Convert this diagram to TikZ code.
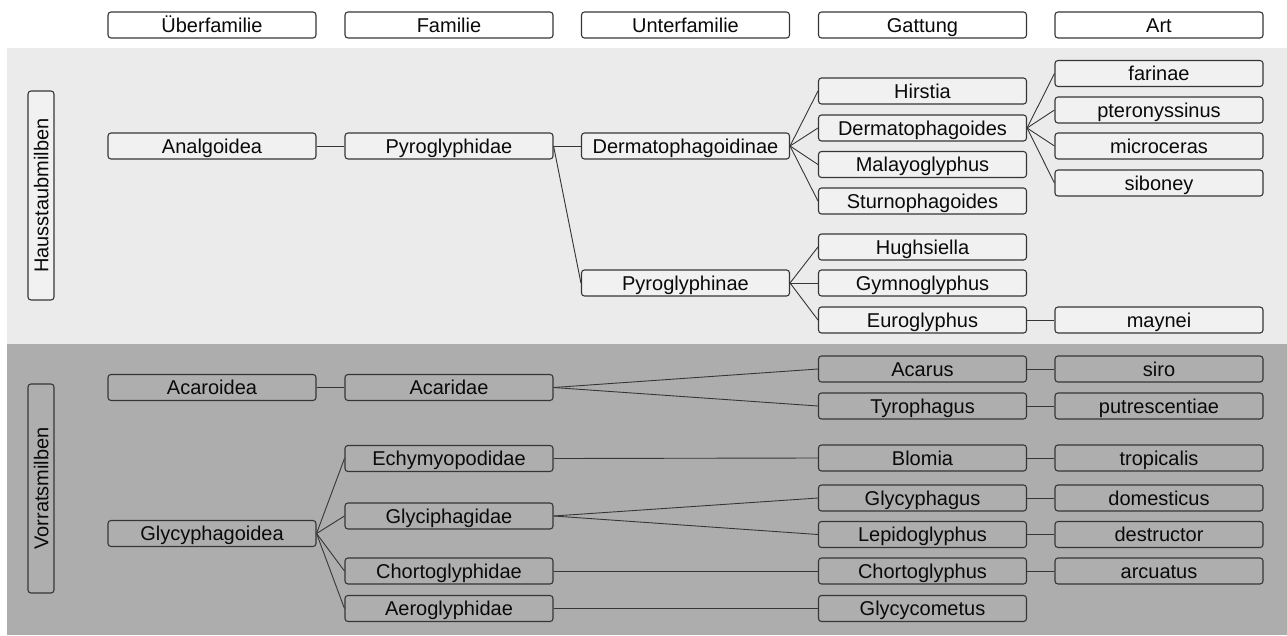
\documentclass[tikz,border=0pt]{standalone}
\usepackage{fontspec}
\setmainfont{Liberation Sans}
\definecolor{bandlight}{HTML}{EBEBEB}
\definecolor{banddark}{HTML}{ADADAD}
\definecolor{boxlight}{HTML}{F1F1F1}
\definecolor{boxdark}{HTML}{AEAEAE}
\definecolor{edge}{HTML}{363636}
\definecolor{txt}{HTML}{0A0A0A}
\begin{document}
\begin{tikzpicture}[x=1pt,y=-1pt,
  base/.style={draw=edge,line width=1.1pt,rounded corners=3pt,minimum width=208pt,minimum height=26pt,inner sep=0pt,text=txt,text height=16pt,text depth=1.4pt,font=\fontsize{20}{22}\selectfont},
  hdr/.style={base,fill=white},
  lbox/.style={base,fill=boxlight},
  dbox/.style={base,fill=boxdark},
  vlab/.style={base,minimum width=209pt,rotate=90},
  conn/.style={draw=edge,line width=0.9pt}]
\useasboundingbox (0,0) rectangle (1287,635);
\fill[white] (0,0) rectangle (1287,635);
\fill[bandlight] (7,48) rectangle (1287,344);
\fill[banddark] (7,344) rectangle (1287,635);

% headers
\node[hdr] (h1) at (212,25) {Überfamilie};
\node[hdr] (h2) at (449,25) {Familie};
\node[hdr] (h3) at (685.5,25) {Unterfamilie};
\node[hdr] (h4) at (922.5,25) {Gattung};
\node[hdr] (h5) at (1159,25) {Art};

% side labels
\node[vlab,fill=boxlight] (hs) at (41,195.5) {Hausstaubmilben};
\node[vlab,fill=boxdark] (vr) at (41,488.5) {Vorratsmilben};

% upper band
\node[lbox] (analg) at (212,146) {Analgoidea};
\node[lbox] (pyrd) at (449,146) {Pyroglyphidae};
\node[lbox] (derm) at (685.5,146) {Dermatophagoidinae};
\node[lbox] (pyrn) at (685.5,283) {Pyroglyphinae};
\node[lbox] (hirs) at (922.5,91) {Hirstia};
\node[lbox] (dermg) at (922.5,128) {Dermatophagoides};
\node[lbox] (malay) at (922.5,164.5) {Malayoglyphus};
\node[lbox] (sturn) at (922.5,201) {Sturnophagoides};
\node[lbox] (hugh) at (922.5,247) {Hughsiella};
\node[lbox] (gymn) at (922.5,283) {Gymnoglyphus};
\node[lbox] (euro) at (922.5,320) {Euroglyphus};
\node[lbox] (far) at (1159,73.5) {farinae};
\node[lbox] (pter) at (1159,110) {pteronyssinus};
\node[lbox] (micr) at (1159,146) {microceras};
\node[lbox] (sibo) at (1159,183) {siboney};
\node[lbox] (mayn) at (1159,320) {maynei};

% lower band
\node[dbox] (acar) at (212,387.5) {Acaroidea};
\node[dbox] (acard) at (449,387.5) {Acaridae};
\node[dbox] (glyc) at (212,533.5) {Glycyphagoidea};
\node[dbox] (echy) at (449,458.5) {Echymyopodidae};
\node[dbox] (glyd) at (449,516) {Glyciphagidae};
\node[dbox] (chod) at (449,571) {Chortoglyphidae};
\node[dbox] (aerd) at (449,608.5) {Aeroglyphidae};
\node[dbox] (acarus) at (922.5,369) {Acarus};
\node[dbox] (tyro) at (922.5,406) {Tyrophagus};
\node[dbox] (blom) at (922.5,458) {Blomia};
\node[dbox] (glycg) at (922.5,498) {Glycyphagus};
\node[dbox] (lepi) at (922.5,534.5) {Lepidoglyphus};
\node[dbox] (chog) at (922.5,571) {Chortoglyphus};
\node[dbox] (glcm) at (922.5,608.5) {Glycycometus};
\node[dbox] (siro) at (1159,369) {siro};
\node[dbox] (putr) at (1159,406) {putrescentiae};
\node[dbox] (trop) at (1159,458) {tropicalis};
\node[dbox] (dome) at (1159,498) {domesticus};
\node[dbox] (dest) at (1159,534.5) {destructor};
\node[dbox] (arcu) at (1159,571) {arcuatus};

% connectors upper
\draw[conn] (analg.east) -- (pyrd.west);
\draw[conn] (pyrd.east) -- (derm.west);
\draw[conn] (pyrd.east) -- (pyrn.west);
\foreach \c in {hirs,dermg,malay,sturn} \draw[conn] (derm.east) -- (\c.west);
\foreach \c in {hugh,gymn,euro} \draw[conn] (pyrn.east) -- (\c.west);
\foreach \c in {far,pter,micr,sibo} \draw[conn] (dermg.east) -- (\c.west);
\draw[conn] (euro.east) -- (mayn.west);

% connectors lower
\draw[conn] (acar.east) -- (acard.west);
\draw[conn] (acard.east) -- (acarus.west);
\draw[conn] (acard.east) -- (tyro.west);
\foreach \c in {echy,glyd,chod,aerd} \draw[conn] (glyc.east) -- (\c.west);
\draw[conn] (echy.east) -- (blom.west);
\draw[conn] (glyd.east) -- (glycg.west);
\draw[conn] (glyd.east) -- (lepi.west);
\draw[conn] (chod.east) -- (chog.west);
\draw[conn] (aerd.east) -- (glcm.west);
\draw[conn] (acarus.east) -- (siro.west);
\draw[conn] (tyro.east) -- (putr.west);
\draw[conn] (blom.east) -- (trop.west);
\draw[conn] (glycg.east) -- (dome.west);
\draw[conn] (lepi.east) -- (dest.west);
\draw[conn] (chog.east) -- (arcu.west);
\end{tikzpicture}
\end{document}
